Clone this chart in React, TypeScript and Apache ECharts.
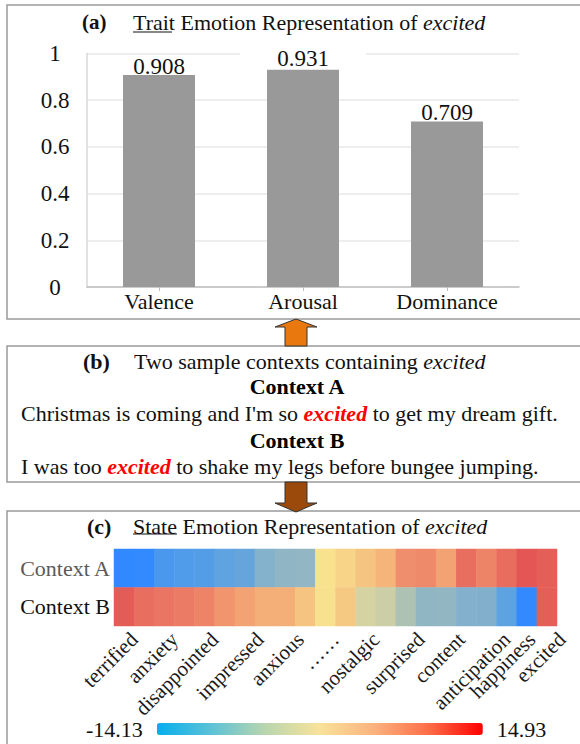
import React, { useEffect, useRef } from "react";
import * as echarts from "echarts";

const FONT = "Liberation Serif, serif";

// Panel (a): trait emotion representation
const dimensions = ["Valence", "Arousal", "Dominance"];
const traitValues = [0.908, 0.931, 0.709];
const yTicks = [0, 0.2, 0.4, 0.6, 0.8, 1];

// Panel (c): state emotion representation (22 columns)
const contexts = ["Context A", "Context B"];
const contextA = [-14.13, -13.9, -11.0, -10.3, -9.9, -8.7, -8.1, -5.6, -4.6, -4.45, 0.4, 1.9, 3.6, 5.2, 9.6, 10.1, 7.4, 12.7, 10.7, 12.8, 14.93, 14.1];
const contextB = [14.4, 12.6, 12.0, 11.5, 10.7, 8.8, 7.4, 6.0, 5.9, 3.6, 0.5, 3.1, -1.3, -1.75, -3.1, -4.5, -4.4, -5.7, -5.8, -8.9, -13.9, 14.1];
const emotionLabels = ["terrified", "anxiety", "disappointed", "impressed", "anxious", "……", "nostalgic", "surprised", "content", "anticipation", "happiness", "excited"];
const labelColumns = [1, 3, 5, 7.25, 9.25, 11, 13, 15.25, 17.25, 19.5, 20.75, 22.25];
const scaleMin = -14.13;
const scaleMax = 14.93;

const heatColors = ["#3189FF", "#58A0E4", "#92B6C3", "#F8E28E", "#F5B57A", "#EE8A6A", "#E35655"];
const barColors = ["#06AEEE", "#5CC2D6", "#B9D6AE", "#F9E29B", "#FBB27E", "#FE6D48", "#FF0000"];

function buildOption() {
  const columnIds = contextA.map((_, i) => String(i));
  const heatData: number[][] = [];
  contextA.forEach((v, i) => heatData.push([i, 0, v]));
  contextB.forEach((v, i) => heatData.push([i, 1, v]));

  const txt = (x: number, y: number, text: string, extra: any = {}) => ({
    type: "text",
    x,
    y,
    silent: true,
    style: {
      text,
      fill: "#111",
      fontSize: 22,
      fontFamily: FONT,
      align: "left",
      verticalAlign: "middle",
      ...extra,
    },
  });
  const rich = {
    n: { fontSize: 22, fontFamily: FONT, fill: "#111" },
    i: { fontSize: 22, fontFamily: FONT, fontStyle: "italic", fill: "#111" },
    r: { fontSize: 22, fontFamily: FONT, fontStyle: "italic", fontWeight: "bold", fill: "#FF0000" },
  };
  const box = (y1: number, y2: number) => ({
    type: "rect",
    silent: true,
    shape: { x: 7, y: y1, width: 575, height: y2 - y1 },
    style: { fill: "none", stroke: "#9A9A9A", lineWidth: 1.5 },
  });

  return {
    animation: false,
    backgroundColor: "#fff",
    grid: [
      { left: 87, top: 53.5, width: 432, height: 233.5 },
      { left: 114, top: 549, width: 443, height: 77 },
      { left: 114, top: 549, width: 443 * 23 / 22, height: 77 },
    ],
    xAxis: [
      {
        type: "category",
        gridIndex: 0,
        data: dimensions,
        axisLine: { lineStyle: { color: "#BFBFBF", width: 1.5 } },
        axisTick: { show: true, alignWithLabel: true, length: 4, lineStyle: { color: "#BFBFBF" } },
        axisLabel: { fontSize: 22, fontFamily: FONT, color: "#111", margin: 3 },
      },
      {
        type: "category",
        gridIndex: 1,
        data: columnIds,
        axisLine: { show: false },
        axisTick: { show: false },
        axisLabel: { show: false },
      },
      {
        type: "value",
        gridIndex: 2,
        min: 0,
        max: 23,
        interval: 0.25,
        axisLine: { show: false },
        axisTick: { show: false },
        splitLine: { show: false },
        axisLabel: {
          rotate: 45,
          margin: 10,
          fontSize: 21,
          fontFamily: FONT,
          color: "#1a1a1a",
          showMinLabel: true,
          showMaxLabel: true,
          formatter: (v: number) => {
            const k = labelColumns.findIndex((c) => Math.abs(c - v) < 1e-6);
            return k >= 0 ? emotionLabels[k] : "";
          },
        },
      },
    ],
    yAxis: [
      {
        type: "value",
        gridIndex: 0,
        min: 0,
        max: 1,
        interval: 0.2,
        axisLine: { show: true, lineStyle: { color: "#D9D9D9", width: 1.5 } },
        axisTick: { show: false },
        splitLine: { lineStyle: { color: "#E8E8E8", width: 1.5 } },
        axisLabel: {
          fontSize: 23,
          fontFamily: FONT,
          color: "#111",
          align: "center",
          margin: 32,
          formatter: (v: number) => {
            const t = yTicks.find((k) => Math.abs(k - v) < 1e-6);
            return t === undefined ? "" : String(t);
          },
        },
      },
      {
        type: "category",
        gridIndex: 1,
        data: contexts,
        inverse: true,
        axisLine: { show: false },
        axisTick: { show: false },
        axisLabel: {
          fontSize: 22,
          fontFamily: FONT,
          margin: 4,
          color: (_v: any, idx: number) => (idx === 0 ? "#5a5a5a" : "#111"),
        },
      },
      { type: "value", gridIndex: 2, min: 0, max: 1, show: false },
    ],
    visualMap: [
      {
        type: "continuous",
        min: scaleMin,
        max: scaleMax,
        seriesIndex: 1,
        orient: "horizontal",
        left: 71,
        top: 703,
        itemWidth: 12,
        itemHeight: 326,
        text: [String(scaleMax), String(scaleMin)],
        textGap: 14,
        textStyle: { fontSize: 22, fontFamily: FONT, color: "#111" },
        calculable: false,
        hoverLink: false,
        inRange: { color: heatColors },
        controller: { inRange: { color: barColors } },
      },
    ],
    series: [
      {
        type: "bar",
        xAxisIndex: 0,
        yAxisIndex: 0,
        barWidth: 72,
        itemStyle: { color: "#999999" },
        label: {
          show: true,
          position: "top",
          distance: -3,
          fontSize: 23,
          fontFamily: FONT,
          color: "#111",
        },
        data: traitValues.map((v, i) =>
          i === 1
            ? {
                value: v,
                label: { distance: 0, backgroundColor: "#fff", padding: [0, 37, 0, 37] },
              }
            : v
        ),
      },
      {
        type: "heatmap",
        xAxisIndex: 1,
        yAxisIndex: 1,
        data: heatData,
        itemStyle: { borderWidth: 0 },
      },
    ],
    graphic: [
      box(5, 319),
      box(346, 482),
      box(511, 760),
      {
        type: "polygon",
        silent: true,
        shape: { points: [[296, 319], [317, 327], [307, 327], [307, 346], [285, 346], [285, 327], [275, 327]] },
        style: { fill: "#E9780E", stroke: "#333", lineWidth: 1 },
      },
      {
        type: "polygon",
        silent: true,
        shape: { points: [[285, 482], [307, 482], [307, 503], [317, 503], [296, 512], [275, 503], [285, 503]] },
        style: { fill: "#9B4A0B", stroke: "#333", lineWidth: 1 },
      },
      // (a) title
      txt(82, 22, "(a)", { fontWeight: "bold", fontSize: 21 }),
      txt(133, 22, "{n|Trait Emotion Representation of }{i|excited}", { rich }),
      { type: "line", silent: true, shape: { x1: 133, y1: 32, x2: 172, y2: 32 }, style: { stroke: "#111", lineWidth: 1.2 } },
      // (b)
      txt(83, 361, "(b)", { fontWeight: "bold" }),
      txt(134, 361, "{n|Two sample contexts containing }{i|excited}", { rich }),
      txt(297, 386.5, "Context A", { fontWeight: "bold", align: "center", fill: "#000" }),
      txt(21, 413.5, "{n|Christmas is coming and I'm so }{r|excited}{n| to get my dream gift.}", { rich }),
      txt(297, 440.5, "Context B", { fontWeight: "bold", align: "center", fill: "#000" }),
      txt(21, 466.5, "{n|I was too }{r|excited}{n| to shake my legs before bungee jumping.}", { rich }),
      // (c) title
      txt(87, 526.5, "(c)", { fontWeight: "bold" }),
      txt(133, 526.5, "{n|State Emotion Representation of }{i|excited}", { rich }),
      { type: "line", silent: true, shape: { x1: 133, y1: 534, x2: 177, y2: 534 }, style: { stroke: "#111", lineWidth: 1.2 } },
    ],
  };
}

export default function App() {
  const ref = useRef<HTMLDivElement>(null);
  useEffect(() => {
    if (!ref.current) return;
    const chart = echarts.init(ref.current, null, { renderer: "svg", width: 580, height: 744 });
    chart.setOption(buildOption() as any);
    return () => chart.dispose();
  }, []);
  return (
    <div
      ref={ref}
      style={{ position: "absolute", left: 0, top: 0, width: 580, height: 744, background: "#fff" }}
    />
  );
}
